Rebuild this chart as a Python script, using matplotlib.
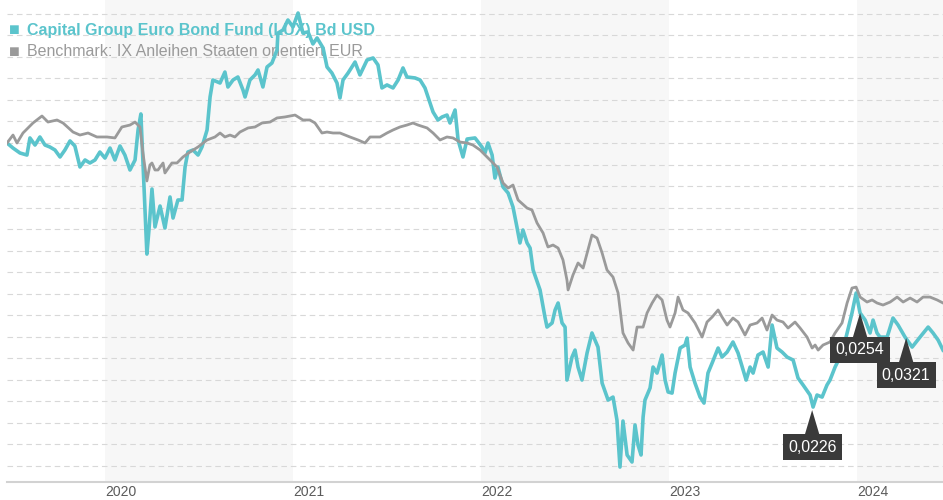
import matplotlib
matplotlib.use('Agg')
import matplotlib.pyplot as plt
import numpy as np

# performance in % (start = 0), x in decimal years
fund_t = [2019.479, 2019.511, 2019.548, 2019.585, 2019.601, 2019.628, 2019.654, 2019.681, 2019.707, 2019.734,
          2019.761, 2019.787, 2019.814, 2019.840, 2019.867, 2019.894, 2019.920, 2019.947, 2019.973, 2020.000,
          2020.027, 2020.053, 2020.080, 2020.106, 2020.133, 2020.160, 2020.176, 2020.191, 2020.207, 2020.223,
          2020.234, 2020.250, 2020.266, 2020.293, 2020.319, 2020.346, 2020.362, 2020.388, 2020.410, 2020.426,
          2020.441, 2020.468, 2020.495, 2020.516, 2020.543, 2020.559, 2020.574, 2020.612, 2020.638, 2020.654,
          2020.681, 2020.707, 2020.734, 2020.745, 2020.771, 2020.798, 2020.814, 2020.840, 2020.862, 2020.888,
          2020.915, 2020.920, 2020.947, 2020.973, 2021.000, 2021.027, 2021.053, 2021.080, 2021.106, 2021.128,
          2021.160, 2021.181, 2021.207, 2021.234, 2021.250, 2021.266, 2021.293, 2021.330, 2021.356, 2021.394,
          2021.426, 2021.452, 2021.473, 2021.500, 2021.532, 2021.559, 2021.585, 2021.606, 2021.649, 2021.676,
          2021.702, 2021.718, 2021.745, 2021.771, 2021.793, 2021.819, 2021.835, 2021.862, 2021.878, 2021.904,
          2021.926, 2021.968, 2022.005, 2022.021, 2022.037, 2022.059, 2022.074, 2022.090, 2022.117, 2022.144,
          2022.170, 2022.191, 2022.207, 2022.223, 2022.245, 2022.261, 2022.277, 2022.314, 2022.340, 2022.351,
          2022.378, 2022.394, 2022.410, 2022.431, 2022.447, 2022.457, 2022.484, 2022.500, 2022.516, 2022.537,
          2022.564, 2022.590, 2022.606, 2022.622, 2022.644, 2022.676, 2022.702, 2022.723, 2022.739, 2022.755,
          2022.777, 2022.803, 2022.819, 2022.835, 2022.851, 2022.862, 2022.872, 2022.899, 2022.915, 2022.936,
          2022.963, 2022.979, 2022.995, 2023.016, 2023.032, 2023.059, 2023.085, 2023.096, 2023.112, 2023.138,
          2023.165, 2023.186, 2023.207, 2023.229, 2023.261, 2023.282, 2023.309, 2023.340, 2023.367, 2023.394,
          2023.410, 2023.431, 2023.447, 2023.473, 2023.500, 2023.527, 2023.548, 2023.574, 2023.601, 2023.628,
          2023.660, 2023.686, 2023.713, 2023.750, 2023.766, 2023.787, 2023.814, 2023.840, 2023.856, 2023.883,
          2023.920, 2023.947, 2023.973, 2023.995, 2024.016, 2024.043, 2024.069, 2024.085, 2024.106, 2024.122,
          2024.160, 2024.191, 2024.218, 2024.255, 2024.293, 2024.335, 2024.378, 2024.404, 2024.431, 2024.457]
fund_v = [0.00, -0.47, -0.93, -1.12, 0.47, -0.19, 0.56, -0.19, -0.37, -0.65,
          -1.30, -0.65, 0.19, -0.28, -2.23, -1.58, -1.86, -1.58, -0.84, -1.40,
          -0.47, -1.58, -0.28, -1.12, -2.51, -1.58, 1.21, 2.70, -3.72, -10.33,
          -8.09, -4.28, -7.81, -5.86, -7.91, -5.02, -6.98, -5.30, -5.30, -2.23,
          -0.84, -0.65, -1.12, -0.37, 1.21, 4.28, 5.86, 5.58, 6.60, 5.21,
          5.86, 6.14, 4.93, 4.28, 5.86, 6.33, 6.79, 5.21, 7.07, 7.44,
          8.65, 10.23, 10.51, 11.44, 10.79, 12.09, 10.23, 10.33, 9.21, 9.77,
          8.84, 7.07, 6.51, 5.58, 4.19, 5.86, 6.51, 7.53, 6.33, 7.72,
          7.91, 7.26, 5.12, 5.40, 5.12, 5.86, 6.98, 6.14, 6.05, 5.86,
          5.12, 4.28, 2.88, 2.14, 2.42, 2.60, 1.86, 3.07, 0.28, -1.30,
          0.37, 0.47, -0.37, -0.93, 0.00, -1.12, -3.26, -2.23, -4.09, -4.65,
          -5.95, -7.81, -9.30, -8.09, -9.30, -9.77, -11.81, -13.67, -16.19, -17.12,
          -16.74, -15.53, -14.88, -16.74, -17.12, -22.05, -19.91, -19.26, -20.84, -22.05,
          -19.53, -17.67, -18.33, -18.98, -22.33, -23.91, -23.63, -25.77, -30.14, -25.86,
          -29.02, -29.67, -26.23, -28.09, -29.02, -25.49, -23.91, -22.79, -20.84, -21.40,
          -19.72, -22.05, -23.16, -23.26, -21.40, -19.07, -18.79, -18.14, -20.84, -22.33,
          -23.63, -24.19, -21.40, -20.47, -19.07, -19.91, -19.44, -18.51, -19.53, -21.12,
          -22.05, -20.84, -21.40, -19.72, -19.44, -20.84, -16.93, -19.07, -19.44, -19.91,
          -20.19, -21.86, -22.51, -23.44, -24.56, -23.44, -23.63, -22.51, -22.05, -20.84,
          -19.53, -17.67, -15.81, -13.95, -15.81, -16.47, -17.67, -16.47, -17.67, -18.05,
          -18.05, -16.28, -16.93, -18.05, -18.98, -18.05, -17.12, -17.67, -18.33, -19.26]

bench_t = [2019.479, 2019.511, 2019.532, 2019.564, 2019.617, 2019.665, 2019.697, 2019.745, 2019.777, 2019.830,
           2019.867, 2019.910, 2019.957, 2020.011, 2020.053, 2020.090, 2020.133, 2020.160, 2020.186, 2020.202,
           2020.223, 2020.239, 2020.250, 2020.266, 2020.282, 2020.309, 2020.319, 2020.356, 2020.383, 2020.415,
           2020.452, 2020.495, 2020.543, 2020.585, 2020.612, 2020.638, 2020.665, 2020.691, 2020.718, 2020.761,
           2020.798, 2020.835, 2020.878, 2020.915, 2020.957, 2021.011, 2021.053, 2021.090, 2021.117, 2021.154,
           2021.181, 2021.213, 2021.250, 2021.303, 2021.346, 2021.383, 2021.410, 2021.463, 2021.500, 2021.532,
           2021.569, 2021.606, 2021.638, 2021.665, 2021.713, 2021.745, 2021.782, 2021.819, 2021.851, 2021.888,
           2021.926, 2021.957, 2021.995, 2022.048, 2022.085, 2022.117, 2022.144, 2022.170, 2022.197, 2022.245,
           2022.271, 2022.298, 2022.330, 2022.356, 2022.383, 2022.410, 2022.436, 2022.457, 2022.463, 2022.489,
           2022.516, 2022.543, 2022.569, 2022.590, 2022.617, 2022.644, 2022.670, 2022.702, 2022.729, 2022.755,
           2022.782, 2022.809, 2022.830, 2022.862, 2022.883, 2022.910, 2022.936, 2022.963, 2022.989, 2023.005,
           2023.032, 2023.048, 2023.074, 2023.101, 2023.138, 2023.176, 2023.202, 2023.229, 2023.261, 2023.282,
           2023.309, 2023.340, 2023.367, 2023.404, 2023.431, 2023.468, 2023.495, 2023.521, 2023.548, 2023.574,
           2023.606, 2023.633, 2023.670, 2023.697, 2023.734, 2023.761, 2023.777, 2023.793, 2023.819, 2023.856,
           2023.883, 2023.920, 2023.947, 2023.973, 2023.995, 2024.016, 2024.053, 2024.080, 2024.106, 2024.138,
           2024.176, 2024.213, 2024.245, 2024.282, 2024.319, 2024.351, 2024.388, 2024.426, 2024.457]
bench_v = [0.00, 0.74, 0.00, 0.93, 1.86, 2.51, 1.95, 2.14, 1.86, 1.02,
           0.74, 0.93, 0.56, 0.56, 0.47, 1.49, 1.67, 1.95, 1.49, -0.93,
           -3.53, -2.05, -1.86, -2.51, -2.51, -1.86, -2.79, -1.86, -1.86, -1.30,
           -0.84, -0.37, 0.28, 0.56, 0.93, 0.56, 0.74, 0.56, 1.02, 1.40,
           1.49, 1.86, 1.95, 2.33, 2.42, 2.60, 2.14, 2.14, 1.86, 0.93,
           1.02, 0.93, 0.93, 0.56, 0.28, 0.00, 0.56, 0.56, 0.93, 1.21,
           1.49, 1.67, 1.86, 1.67, 1.40, 0.93, 0.28, 0.56, 0.47, 0.09,
           0.00, -0.19, -0.65, -1.58, -2.23, -3.72, -4.19, -3.91, -5.30, -6.05,
           -6.23, -7.44, -8.37, -9.67, -9.49, -9.77, -10.88, -12.74, -13.67, -12.28,
           -11.16, -11.63, -9.95, -8.56, -8.84, -10.23, -11.81, -12.47, -13.95, -17.67,
           -18.60, -19.26, -17.12, -17.12, -15.81, -14.88, -14.14, -14.60, -16.47, -17.12,
           -15.81, -14.33, -15.53, -15.81, -16.74, -18.05, -16.65, -16.19, -15.53, -16.19,
           -16.93, -16.28, -16.65, -17.86, -16.93, -16.74, -16.28, -17.40, -16.00, -16.47,
           -16.65, -17.21, -16.65, -17.21, -18.05, -19.07, -18.79, -19.26, -18.79, -18.51,
           -17.67, -16.74, -14.88, -13.49, -13.40, -14.33, -14.79, -14.60, -14.88, -15.07,
           -14.79, -14.33, -14.79, -14.42, -14.79, -14.33, -14.33, -14.60, -14.88]

year_ticks = [2020, 2021, 2022, 2023, 2024]
shaded_years = [2020, 2022, 2024]

# data labels (date, value, label)
label_t = [2023.761, 2024.016, 2024.261]
label_v = [-24.84, -15.81, -18.14]
label_txt = ['0,0226', '0,0254', '0,0321']

fund_name = 'Capital Group Euro Bond Fund (LUX) Bd USD'
bench_name = 'Benchmark: IX Anleihen Staaten orientiert EUR'

TEAL = '#5bc4cc'
GREY = '#9a9a9a'
FONT = ['Liberation Sans', 'DejaVu Sans']

fig = plt.figure(figsize=(9.43, 5.0), dpi=100)
ax = fig.add_axes([7 / 943, 18 / 500, 936 / 943, 482 / 500])
xmin, xmax = 2019.479, 2024.457
ax.set_xlim(xmin, xmax)
ax.set_ylim(-31.53, 13.30)

for y0 in shaded_years:
    ax.axvspan(y0, min(y0 + 1, xmax), color='#f7f7f7', lw=0, zorder=0)

for g in np.arange(-30, 13, 2):
    ax.axhline(g, color='#d8d8d8', lw=0.8, ls=(0, (5, 3.5)), zorder=1)

ax.plot(fund_t, fund_v, color=TEAL, lw=2.6, zorder=3, solid_joinstyle='round')
ax.plot(bench_t, bench_v, color=GREY, lw=2.0, zorder=4, solid_joinstyle='round')

for t, v, s in zip(label_t, label_v, label_txt):
    ax.annotate(s, xy=(t, v), xytext=(0, -37), textcoords='offset pixels',
                ha='center', va='center', color='white', fontsize=11.5, family=FONT,
                bbox=dict(boxstyle='square,pad=0.33', fc='#3a3a3a', ec='none'),
                arrowprops=dict(arrowstyle='wedge,tail_width=0.9,shrink_factor=0.5',
                                fc='#3a3a3a', ec='none', shrinkA=0, shrinkB=0),
                zorder=6)

# legend as text in top left corner (drawn under the lines)
ax.text(2 / 936, (482 - 30) / 482, '■', transform=ax.transAxes, color=TEAL,
        fontsize=13, family=FONT, va='center', ha='left', zorder=2)
ax.text(20 / 936, (482 - 30) / 482, fund_name, transform=ax.transAxes, color=TEAL,
        fontsize=11.5, fontweight='bold', family=FONT, va='center', ha='left', zorder=2)
ax.text(2 / 936, (482 - 52) / 482, '■', transform=ax.transAxes, color=GREY,
        fontsize=13, family=FONT, va='center', ha='left', zorder=2)
ax.text(20 / 936, (482 - 52) / 482, bench_name, transform=ax.transAxes, color=GREY,
        fontsize=11.5, family=FONT, va='center', ha='left', zorder=2)

ax.set_xticks(year_ticks)
ax.set_xticklabels([str(y) for y in year_ticks], ha='left', fontsize=10,
                   color='#5a5a5a', family=FONT)
ax.tick_params(axis='x', length=0, pad=2)
ax.set_yticks([])
for side in ['top', 'right', 'left']:
    ax.spines[side].set_visible(False)
ax.spines['bottom'].set_color('#d2d2d2')
ax.spines['bottom'].set_linewidth(1.5)
ax.set_facecolor('white')

fig.savefig('out.png', dpi=100)
